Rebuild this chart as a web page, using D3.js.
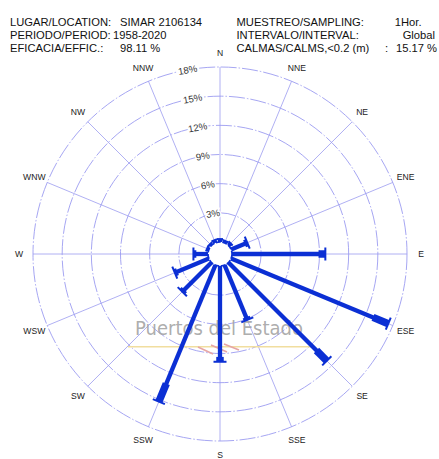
<!DOCTYPE html>
<html>
<head>
<meta charset="utf-8">
<script src="https://cdn.jsdelivr.net/npm/d3@7"></script>
<style>
  html, body { margin: 0; padding: 0; background: #fff; }
  svg { display: block; font-family: "Liberation Sans", Arial, sans-serif; }
</style>
</head>
<body>
<svg id="rose" width="439" height="459"></svg>
<script>
// Wave rose: frequency (%) of each incoming direction
const directions = ["N","NNE","NE","ENE","E","ESE","SE","SSE","S","SSW","SW","WSW","W","WNW","NW","NNW"];
const totalFreq  = [0.3, 0.2, 0.3, 1.8, 9.6, 17.5, 14.3, 6.1, 9.85, 15.2, 4.25, 3.8, 1.5, 0.2, 0.2, 0.3];
const upperFreq  = [0, 0, 0, 0.3, 0.7, 1.7, 1.5, 0.3, 0.5, 2.0, 0.3, 0.3, 0.3, 0, 0, 0];
const ringTicks  = [3, 6, 9, 12, 15, 18];
const headerLeft = [
  ["LUGAR/LOCATION:", "SIMAR 2106134"],
  ["PERIODO/PERIOD:", "1958-2020"],
  ["EFICACIA/EFFIC.:", "98.11 %"]
];
const headerRight = [
  ["MUESTREO/SAMPLING:", "1Hor."],
  ["INTERVALO/INTERVAL:", "Global"],
  ["CALMAS/CALMS,<0.2 (m)", "15.17 %"]
];

const svg = d3.select("#rose");
const cx = 220, cy = 254;
const calmR = 12;
const r = d3.scaleLinear().domain([0, 18]).range([calmR, 187]);
const angle = d3.scaleLinear().domain([0, directions.length]).range([0, 2 * Math.PI]);
const pt = (a, rad) => [cx + rad * Math.sin(a), cy - rad * Math.cos(a)];

const gridColor = "#9c9cf0";
const barColor = "#0b2fd4";

// header block
const hdr = svg.append("g").attr("font-size", 11.2).attr("fill", "#111");
const leftValX = [120, 113, 120];
const rightValEnd = [421.5, 435, 437];
headerLeft.forEach((row, i) => {
  const y = 25.5 + i * 13.3;
  hdr.append("text").attr("x", 10).attr("y", y).text(row[0]);
  hdr.append("text").attr("x", leftValX[i]).attr("y", y).text(row[1]);
});
headerRight.forEach((row, i) => {
  const y = 25.5 + i * 13.3;
  hdr.append("text").attr("x", 236.5).attr("y", y).text(row[0]);
  hdr.append("text").attr("x", rightValEnd[i]).attr("y", y)
    .attr("text-anchor", "end").text(row[1]);
});
hdr.append("text").attr("x", 385).attr("y", 25.5 + 2 * 13.3).text(":");

// rings
const grid = svg.append("g");
grid.selectAll("circle.ring").data(ringTicks).join("circle")
  .attr("class", "ring")
  .attr("cx", cx).attr("cy", cy)
  .attr("r", d => r(d))
  .attr("fill", "none")
  .attr("stroke", gridColor)
  .attr("stroke-width", 0.9)
  .attr("stroke-dasharray", "16,2,1.5,2");

// spokes
grid.selectAll("line.spoke").data(directions).join("line")
  .attr("class", "spoke")
  .attr("x1", (d, i) => pt(angle(i), calmR)[0])
  .attr("y1", (d, i) => pt(angle(i), calmR)[1])
  .attr("x2", (d, i) => pt(angle(i), r(18))[0])
  .attr("y2", (d, i) => pt(angle(i), r(18))[1])
  .attr("stroke", gridColor)
  .attr("stroke-width", 0.8);

// ring labels
const labA = -10 * Math.PI / 180;
grid.selectAll("text.tick").data(ringTicks).join("text")
  .attr("class", "tick")
  .attr("transform", d => {
    const p = pt(labA, r(d));
    return `translate(${p[0]},${p[1]}) rotate(-10)`;
  })
  .attr("text-anchor", "middle")
  .attr("dominant-baseline", "central")
  .attr("font-size", 9.6)
  .attr("fill", "#333")
  .attr("stroke", "#fff")
  .attr("stroke-width", 3)
  .attr("paint-order", "stroke")
  .text(d => d + "%");

// compass labels
svg.append("g").selectAll("text").data(directions).join("text")
  .attr("x", (d, i) => pt(angle(i), 201)[0])
  .attr("y", (d, i) => pt(angle(i), 201)[1])
  .attr("text-anchor", "middle")
  .attr("dominant-baseline", "central")
  .attr("font-size", 8.6)
  .attr("fill", "#222")
  .text(d => d);

// logo watermark
const logo = svg.append("g");
logo.append("line")
  .attr("x1", 128).attr("x2", 312).attr("y1", 346.7).attr("y2", 346.7)
  .attr("stroke", "#f1de9f").attr("stroke-width", 1.6);
const waves = [[198, 347, 213, 354], [211, 345, 227, 352], [224, 344, 239, 350]];
logo.selectAll("path").data(waves).join("path")
  .attr("d", w => `M${w[0]},${w[1]} L${w[2]},${w[3]}`)
  .attr("fill", "none").attr("stroke", "#e6a5a5").attr("stroke-width", 1.6);
logo.append("text")
  .attr("x", 135).attr("y", 335)
  .attr("font-family", "'DejaVu Sans', sans-serif")
  .attr("font-size", 19)
  .attr("textLength", 168)
  .attr("lengthAdjust", "spacingAndGlyphs")
  .attr("fill", "#a3a3a3")
  .attr("fill-opacity", 0.9)
  .text("Puertos del Estado");

// calm circle
svg.append("circle")
  .attr("cx", cx).attr("cy", cy).attr("r", calmR)
  .attr("fill", "#fff")
  .attr("stroke", barColor)
  .attr("stroke-width", 1.6)
  .attr("stroke-dasharray", "5,1.5");

// bars
const bars = svg.append("g");
directions.forEach((d, i) => {
  const v = totalFreq[i];
  const a = angle(i);
  const p0 = pt(a, calmR);
  const p1 = pt(a, r(v));
  const pu = pt(a, r(Math.max(0, v - upperFreq[i])));
  bars.append("line")
    .attr("x1", p0[0]).attr("y1", p0[1]).attr("x2", p1[0]).attr("y2", p1[1])
    .attr("stroke", barColor).attr("stroke-width", 4.3);
  if (upperFreq[i] > 0) {
    bars.append("line")
      .attr("x1", pu[0]).attr("y1", pu[1]).attr("x2", p1[0]).attr("y2", p1[1])
      .attr("stroke", barColor).attr("stroke-width", 7.5);
  }
  const half = v >= 1 ? 6.5 : 3;
  const px = Math.cos(a) * half, py = Math.sin(a) * half;
  bars.append("line")
    .attr("x1", p1[0] - px).attr("y1", p1[1] - py)
    .attr("x2", p1[0] + px).attr("y2", p1[1] + py)
    .attr("stroke", barColor).attr("stroke-width", 2);
});
</script>
</body>
</html>
